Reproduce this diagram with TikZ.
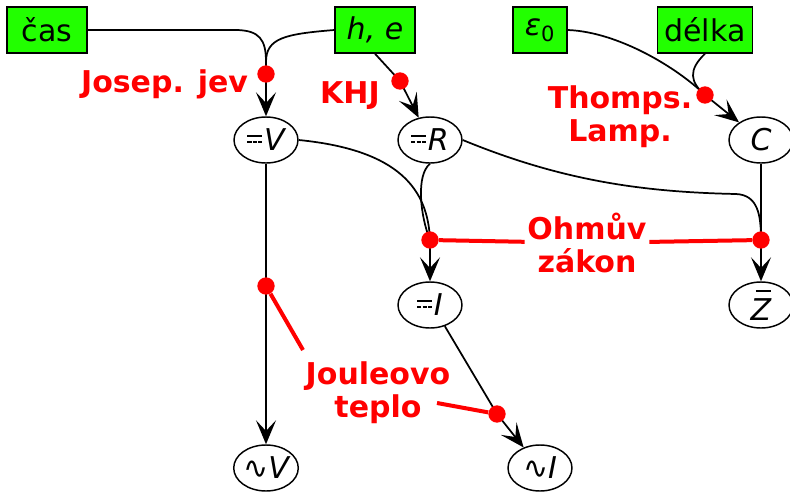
\documentclass[tikz,border=0pt]{standalone}
\usepackage{fontspec}
\setmainfont{DejaVu Sans}
\usetikzlibrary{arrows.meta,shapes.geometric,backgrounds}

\definecolor{unitgreen}{RGB}{34,255,0}
\newcommand\lblsize{\fontsize{22.5}{25}\selectfont}
% direct current sign: full bar over a dashed one
\newcommand\dcsym{\makebox[0.56em][l]{%
  \rlap{\rule[0.45em]{0.5em}{0.065em}}%
  \rule[0.28em]{0.14em}{0.065em}\hspace{0.04em}%
  \rule[0.28em]{0.14em}{0.065em}\hspace{0.04em}%
  \rule[0.28em]{0.14em}{0.065em}}}
% Z with a bar over it
\newcommand\zbar{\rlap{\hspace{0.17em}\rule[0.93em]{0.5em}{0.07em}}Z}

\tikzset{
  unit/.style={draw, fill=unitgreen, line width=1.1pt, font=\lblsize,
    minimum width=60pt, minimum height=34.5pt, inner xsep=5.25pt},
  qty/.style={ellipse, draw, line width=1.1pt, font=\lblsize\itshape,
    minimum width=48pt, minimum height=34.5pt, inner sep=0pt},
  law/.style={circle, fill=red, minimum size=13pt, inner sep=0pt},
  lawname/.style={text=red, font=\lblsize\bfseries, align=center, inner sep=2pt},
  link/.style={line width=1.3pt},
  flow/.style={link, -{Stealth[length=18pt,width=15pt,inset=8pt]}},
  tie/.style={red, line width=3pt},
}

\begin{document}
\begin{tikzpicture}[x=0.75pt,y=-0.75pt]
\useasboundingbox (0,0) rectangle (790,493);

% base units
\node[unit] (cas) at (47,30) {čas};
\node[unit] (he) at (375,30) {\itshape h, e};
\node[unit, minimum width=40.5pt] (eps) at (540,30) {\itshape ε\textsubscript{\upshape 0}};
\node[unit] (delka) at (705,30) {délka};

% derived quantities
\node[qty] (dcV) at (266,140) {\dcsym V};
\node[qty] (dcR) at (430,140) {\dcsym R};
\node[qty] (C) at (761,140) {C};
\node[qty] (dcI) at (430,305) {\dcsym I};
\node[qty] (Zbar) at (761,305) {\zbar};
\node[qty] (acV) at (266,468) {∿V};
\node[qty] (acI) at (540,468) {∿I};

% laws
\node[law] (joseph) at (266,74) {};
\node[law] (khj) at (400,81) {};
\node[law] (thomp) at (705,95) {};
\node[law] (ohmL) at (430,240) {};
\node[law] (ohmR) at (761,240) {};
\node[law] (jouleA) at (266,286) {};
\node[law] (jouleB) at (497,414) {};

\node[lawname, anchor=east] (josephtxt) at (251,84) {Josep. jev};
\node[lawname] (khjtxt) at (350,96) {KHJ};
\node[lawname] (thomptxt) at (620,117) {Thomps.\\Lamp.};
\node[lawname] (ohmtxt) at (587,243) {Ohmův\\zákon};
\node[lawname] (jouletxt) at (378,393) {Jouleovo\\teplo};

\begin{scope}[on background layer]
% inputs of each law
\draw[link] (cas.east) -- (235,30) .. controls (260,30) and (266,40) .. (266,62) -- (joseph.center);
\draw[link] (he.west) .. controls (285,34) and (266,38) .. (266,62);
\draw[link] (he.south) -- (khj.center);
\draw[link] (eps.east) .. controls (620,32) and (680,70) .. (thomp.center);
\draw[link] (delka.south) .. controls (688,70) and (690,82) .. (thomp.center);
\draw[link] (dcV.east) .. controls (400,150) and (428,190) .. (ohmL.center);
\draw[link] (dcR.south) .. controls (416,175) and (420,215) .. (ohmL.center);
\draw[link] (dcR.east) .. controls (560,180) and (640,192) .. (736,194)
  .. controls (758,195) and (761,215) .. (ohmR.center);
\draw[link] (C) -- (ohmR.center);
\draw[link] (dcV) -- (jouleA.center);
\draw[link] (dcI.-55) -- (jouleB.center);

% outputs
\draw[flow] (joseph.center) -- (dcV);
\draw[flow] (khj.center) -- (dcR);
\draw[flow] (thomp.center) -- (C);
\draw[flow] (ohmL.center) -- (dcI);
\draw[flow] (ohmR.center) -- (Zbar);
\draw[flow] (jouleA.center) -- (acV);
\draw[flow] (jouleB.center) -- (acI);
\end{scope}

% law pairs
\draw[tie] (ohmL) -- (ohmtxt);
\draw[tie] (ohmR) -- (ohmtxt);
\draw[tie] (jouleA) -- ([shift={(-75,-43)}]jouletxt.center);
\draw[tie] (jouleB) -- ([shift={(59,10)}]jouletxt.center);

\end{tikzpicture}
\end{document}
